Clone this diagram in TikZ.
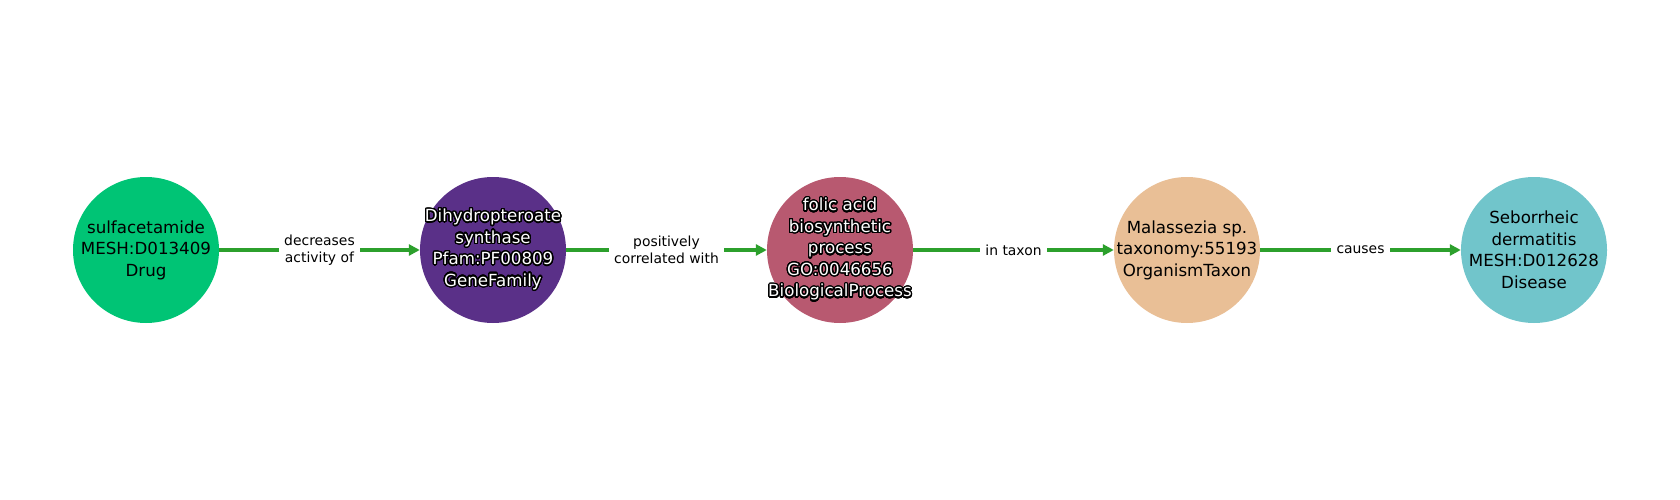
\documentclass[tikz,border=0pt]{standalone}
\usepackage{fontspec}
\setmainfont{DejaVu Sans}
\usepackage{contour}
\contourlength{1.3pt}
\contournumber{32}
\usetikzlibrary{arrows.meta}
\definecolor{cDrug}{HTML}{00C475}
\definecolor{cGene}{HTML}{5A3088}
\definecolor{cProc}{HTML}{B85970}
\definecolor{cTaxon}{HTML}{E9BF96}
\definecolor{cDis}{HTML}{71C5CB}
\definecolor{cEdge}{HTML}{2CA02C}
\newcommand{\wl}[1]{\contour{black}{#1}}
\begin{document}
\begin{tikzpicture}[x=1pt,y=-1pt,
  ent/.style={circle,minimum size=146pt,inner sep=0pt},
  txt/.style={inner sep=0pt,align=center,font=\fontsize{16.67}{21.5}\selectfont},
  dark/.style={text=white},
  rel/.style={line width=4.2pt,draw=cEdge,-{Triangle[length=11pt,width=11pt]}},
  lab/.style={fill=white,inner xsep=5.5pt,inner ysep=2pt,align=center,
    font=\fontsize{13.9}{17.5}\selectfont}]
\useasboundingbox (0,0) rectangle (1680,500);
\node[ent,fill=cDrug] (n1) at (146,250) {};
\node[ent,fill=cGene] (n2) at (493,250) {};
\node[ent,fill=cProc] (n3) at (840,250) {};
\node[ent,fill=cTaxon] (n4) at (1187,250) {};
\node[ent,fill=cDis] (n5) at (1534,250) {};
\node[txt] (t1) at (n1.center) {sulfacetamide\\MESH:D013409\\Drug};
\node[txt,dark] (t2) at (n2.center) {\wl{Dihydropteroate}\\\wl{synthase}\\\wl{Pfam:PF00809}\\\wl{GeneFamily}};
\node[txt,dark] (t3) at (n3.center) {\wl{folic acid}\\\wl{biosynthetic}\\\wl{process}\\\wl{GO:0046656}\\\wl{BiologicalProcess}};
\node[txt] (t4) at (n4.center) {Malassezia sp.\\taxonomy:55193\\OrganismTaxon};
\node[txt] (t5) at (n5.center) {Seborrheic\\dermatitis\\MESH:D012628\\Disease};
\draw[rel] (n1) -- (n2);
\draw[rel] (n2) -- (n3);
\draw[rel] (n3) -- (n4);
\draw[rel] (n4) -- (n5);
\path (n1) -- node[lab] (l1) {decreases\\activity of} (n2);
\path (n2) -- node[lab] (l2) {positively\\correlated with} (n3);
\path (n3) -- node[lab] (l3) {in taxon} (n4);
\path (n4) -- node[lab] (l4) {causes} (n5);
\end{tikzpicture}
\end{document}
